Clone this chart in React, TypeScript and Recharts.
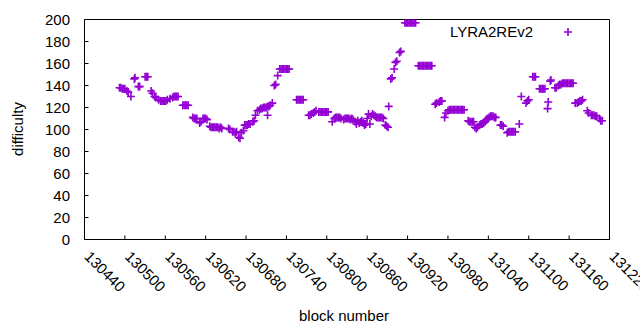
import React from 'react';
import { ScatterChart, Scatter, XAxis, YAxis, Legend, Label } from 'recharts';

const PURPLE = '#9400D3';
const FONT = '"Liberation Sans", Arial, sans-serif';

const seriesName = 'LYRA2REv2';
const xTicks = [130440, 130500, 130560, 130620, 130680, 130740, 130800, 130860, 130920, 130980, 131040, 131100, 131160, 131220];
const yTicks = [0, 20, 40, 60, 80, 100, 120, 140, 160, 180, 200];

const blockNumbers = [
  130492, 130494, 130496, 130498, 130500,
  130503, 130505, 130509,
  130514, 130515, 130520, 130522,
  130530, 130532, 130534, 130539, 130541, 130544, 130546,
  130550, 130553, 130555, 130557, 130559, 130561, 130563,
  130567, 130571, 130573, 130575, 130577, 130579,
  130586, 130588, 130590, 130592, 130594,
  130601, 130603, 130605, 130607, 130611, 130613,
  130616, 130618, 130620, 130622,
  130626, 130628, 130630, 130632, 130634, 130636, 130638, 130640, 130642, 130644,
  130654, 130656, 130660, 130662, 130664, 130666, 130669, 130671,
  130673, 130676, 130678, 130680, 130682, 130684, 130686, 130690, 130692, 130694,
  130697, 130700, 130702, 130704, 130706, 130708, 130710, 130712, 130714, 130716,
  130719, 130722, 130724, 130727,
  130730, 130732, 130734, 130736, 130738, 130740, 130742, 130744,
  130755, 130757, 130759, 130761, 130763, 130765,
  130773, 130775, 130777, 130780, 130782, 130784,
  130788, 130790, 130792, 130794, 130796, 130798, 130800, 130802,
  130808, 130811, 130813, 130815, 130817, 130819, 130821,
  130825, 130827, 130829, 130831, 130833, 130835, 130837, 130839,
  130842, 130844, 130846, 130848, 130850, 130852, 130854, 130856, 130858, 130860,
  130862, 130864, 130866, 130868, 130870, 130872, 130874, 130876, 130878, 130880,
  130882, 130884, 130887, 130889, 130891, 130892,
  130895, 130897, 130900, 130902, 130904, 130908, 130910,
  130916, 130918, 130920, 130922, 130924, 130926, 130928, 130930, 130932,
  130936, 130938, 130940, 130942, 130944, 130946, 130948, 130950, 130952, 130954, 130956,
  130961, 130963, 130967, 130969, 130971, 130975, 130977,
  130980, 130982, 130984, 130986, 130988, 130990, 130992, 130994, 130996, 130998, 131000, 131002, 131004,
  131010, 131012, 131014, 131016, 131018, 131020, 131022, 131024,
  131027, 131029, 131031, 131033,
  131035, 131037, 131039, 131041, 131043, 131045, 131047, 131049, 131051,
  131058, 131060, 131062,
  131068, 131070, 131072, 131074, 131076, 131078, 131080, 131086,
  131089, 131096, 131098, 131100, 131106, 131108, 131110,
  131116, 131118, 131120, 131122, 131124, 131128, 131129, 131132, 131133, 131139, 131141,
  131144, 131146, 131148, 131150, 131152, 131154, 131156, 131158, 131160, 131162, 131164, 131166,
  131169, 131172, 131174, 131176, 131178, 131180,
  131187, 131189, 131193, 131195, 131197, 131199, 131201, 131205, 131207, 131209,
  130712,
];

const difficulties = [
  138, 138, 137, 137, 137,
  135, 134, 130,
  146, 147, 139, 139,
  148, 148, 148, 135, 133, 130, 129,
  127, 126, 126, 126, 126, 126, 127,
  128, 129, 130, 130, 130, 130,
  122, 122, 122, 122, 122,
  111, 110, 110, 110, 106, 107,
  110, 110, 110, 109,
  103, 102, 102, 102, 102, 102, 102, 101, 102, 101,
  101, 100, 98, 98, 97, 98, 93, 92,
  97, 99, 104, 104, 104, 105, 105, 107, 108, 113,
  117, 118, 119, 119, 120, 120, 120, 121, 121, 122,
  124, 140, 141, 149,
  155, 155, 155, 155, 155, 155, 155, 155,
  127, 127, 127, 127, 127, 127,
  113, 113, 114, 115, 116, 117,
  116, 116, 116, 116, 116, 116, 116, 116,
  107, 110, 111, 111, 111, 111, 110,
  109, 110, 110, 110, 110, 109, 110, 109,
  107, 105, 108, 106, 107, 108, 106, 104, 105, 110,
  114, 105, 112, 114, 113, 112, 111, 111, 111, 111,
  111, 110, 104, 103, 102, 121,
  146, 147, 155, 161, 162, 170, 171,
  197, 197, 197, 197, 197, 197, 197, 197, 197,
  158, 158, 158, 158, 158, 158, 158, 158, 158, 158, 158,
  123, 124, 125, 126, 126, 111, 115,
  117, 118, 118, 118, 118, 118, 118, 118, 118, 118, 118, 118, 118,
  108, 107, 107, 107, 107, 102, 101, 102,
  104, 105, 105, 106,
  107, 109, 110, 111, 112, 112, 112, 111, 111,
  104, 104, 103,
  97, 98, 98, 98, 98, 98, 98, 105,
  130, 124, 126, 127, 148, 148, 148,
  137, 137, 137, 137, 137, 119, 125, 144, 145, 138, 138,
  140, 141, 141, 142, 142, 142, 142, 142, 142, 142, 142, 142,
  124, 124, 125, 126, 126, 127,
  117, 115, 113, 113, 113, 112, 112, 110, 108, 108,
  113,
];

const data = blockNumbers.map((b, i) => ({ block: b, difficulty: difficulties[i] }));

const Plus = (props: any) => {
  const { cx, cy } = props;
  if (cx == null || cy == null) return <g />;
  return (
    <path
      d={`M${cx - 4},${cy}h8M${cx},${cy - 4}v8`}
      stroke={PURPLE}
      strokeWidth={1.6}
      fill="none"
    />
  );
};

const XTick = (props: any) => {
  const { x, y, payload } = props;
  const ax = x - 1;
  return (
    <text
      x={ax}
      y={y}
      transform={`rotate(45, ${ax}, ${y})`}
      textAnchor="start"
      fontSize={15}
      fontFamily={FONT}
      fill="#000"
    >
      {payload.value}
    </text>
  );
};

const LegendContent = () => (
  <svg width={640} height={50} style={{ display: 'block' }}>
    <text x={533} y={37} textAnchor="end" fontSize={15} fontFamily={FONT} fill="#000">
      {seriesName}
    </text>
    <path d="M564,32h8M568,28v8" stroke={PURPLE} strokeWidth={1.6} fill="none" />
  </svg>
);

export default function App() {
  return (
    <div style={{ position: 'absolute', left: 0, top: 0, width: 640, height: 330, background: '#fff' }}>
      <ScatterChart width={640} height={330} margin={{ top: 0, right: 0, bottom: 0, left: 0 }}>
        <XAxis
          xAxisId="bottom"
          type="number"
          dataKey="block"
          domain={[130440, 131220]}
          ticks={xTicks}
          allowDataOverflow
          height={90.5}
          axisLine={{ stroke: '#000', strokeWidth: 1 }}
          tickLine={{ stroke: '#000', strokeWidth: 1 }}
          tickSize={-4}
          tickMargin={22}
          tick={<XTick />}
          interval={0}
        >
          <Label
            content={() => (
              <text x={344} y={315} textAnchor="middle" dominantBaseline="central" fontSize={15} fontFamily={FONT} fill="#000">
                block number
              </text>
            )}
          />
        </XAxis>
        <XAxis
          xAxisId="top"
          orientation="top"
          type="number"
          dataKey="block"
          domain={[130440, 131220]}
          ticks={xTicks}
          allowDataOverflow
          height={19.5}
          axisLine={{ stroke: '#000', strokeWidth: 1 }}
          tickLine={{ stroke: '#000', strokeWidth: 1 }}
          tickSize={-4}
          tick={false}
          interval={0}
        />
        <YAxis
          yAxisId="left"
          type="number"
          dataKey="difficulty"
          domain={[0, 200]}
          ticks={yTicks}
          allowDataOverflow
          width={84.5}
          axisLine={{ stroke: '#000', strokeWidth: 1 }}
          tickLine={{ stroke: '#000', strokeWidth: 1 }}
          tickSize={-4}
          tickMargin={18.5}
          tick={{ fill: '#000', fontSize: 15, fontFamily: FONT }}
          interval={0}
        >
          <Label
            content={() => (
              <text
                x={17}
                y={129}
                transform="rotate(-90, 17, 129)"
                textAnchor="middle"
                dominantBaseline="central"
                fontSize={15}
                fontFamily={FONT}
                fill="#000"
              >
                difficulty
              </text>
            )}
          />
        </YAxis>
        <YAxis
          yAxisId="right"
          orientation="right"
          type="number"
          dataKey="difficulty"
          domain={[0, 200]}
          ticks={yTicks}
          allowDataOverflow
          width={30.5}
          axisLine={{ stroke: '#000', strokeWidth: 1 }}
          tickLine={{ stroke: '#000', strokeWidth: 1 }}
          tickSize={-4}
          tick={false}
          interval={0}
        />
        <Legend
          layout="vertical"
          align="center"
          verticalAlign="middle"
          wrapperStyle={{ position: 'absolute', left: 0, top: 0, width: 640, height: 50, pointerEvents: 'none' }}
          content={<LegendContent />}
        />
        <Scatter
          name={seriesName}
          data={data}
          xAxisId="bottom"
          yAxisId="left"
          fill={PURPLE}
          shape={<Plus />}
          isAnimationActive={false}
        />
      </ScatterChart>
    </div>
  );
}
